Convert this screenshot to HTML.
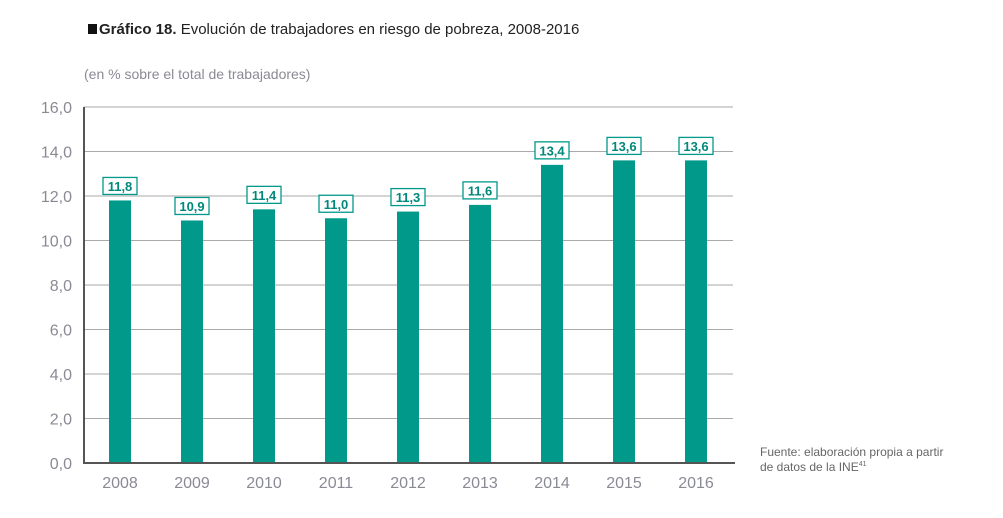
<!DOCTYPE html>
<html><head><meta charset="utf-8"><style>
body{margin:0;background:#fff;width:1003px;height:513px;overflow:hidden;font-family:"Liberation Sans",sans-serif}
</style></head><body>
<svg width="1003" height="513">
<rect x="88" y="24" width="9" height="10" fill="#111"/>
<text x="99" y="34" font-size="15" fill="#222"><tspan font-weight="bold">Gráfico 18.</tspan> Evolución de trabajadores en riesgo de pobreza, 2008-2016</text>
<text x="84" y="79" font-size="14" fill="#8a8a95">(en % sobre el total de trabajadores)</text>
<g id="grid"></g><g id="bars"></g>
<line x1="84" y1="107" x2="84" y2="463" stroke="#555" stroke-width="2"/>
<line x1="83" y1="463" x2="735" y2="463" stroke="#555" stroke-width="2"/>
<text x="760" y="456" font-size="12" fill="#666">Fuente: elaboración propia a partir</text>
<text x="760" y="471" font-size="12" fill="#666">de datos de la INE<tspan font-size="7" dy="-5">41</tspan></text>
</svg>
<script>
const categories=["2008","2009","2010","2011","2012","2013","2014","2015","2016"];
const values=[11.8,10.9,11.4,11.0,11.3,11.6,13.4,13.6,13.6];
const ticks=[0,2,4,6,8,10,12,14,16];
const NS="http://www.w3.org/2000/svg";
const y=v=>463-v*(356/16);
const x=i=>120+i*72;
const g=document.getElementById('grid'),b=document.getElementById('bars');
function mk(tag,at,parent,txt){const e=document.createElementNS(NS,tag);for(const k in at)e.setAttribute(k,at[k]);if(txt!=null)e.textContent=txt;parent.appendChild(e);return e;}
ticks.forEach(t=>{
 if(t>0){const l=mk('line',{x1:84,x2:733,y1:y(t),y2:y(t),stroke:'#aaa','stroke-width':1},g);
 
 }
 const tx=mk('text',{x:72,y:y(t)+6,'text-anchor':'end','font-size':16,fill:'#8a8a95'},g,t.toFixed(1).replace('.',','));
 
 
});
values.forEach((v,i)=>{
 const r=mk('rect',{x:x(i)-11,y:y(v),width:22,height:463-y(v),fill:'#00998a'},b);
 
 
 const bx=mk('rect',{x:x(i)-17,y:y(v)-23,width:34,height:17,fill:'#fff',stroke:'#00998a','stroke-width':1.3},b);
 
 
 const t=mk('text',{x:x(i),y:y(v)-9.5,'text-anchor':'middle','font-size':13,'font-weight':'bold',fill:'#00897b'},b,v.toFixed(1).replace('.',','));
 
 
 const c=mk('text',{x:x(i),y:488,'text-anchor':'middle','font-size':16,fill:'#8a8a95'},b,categories[i]);
 
 
});
</script>
</body></html>
